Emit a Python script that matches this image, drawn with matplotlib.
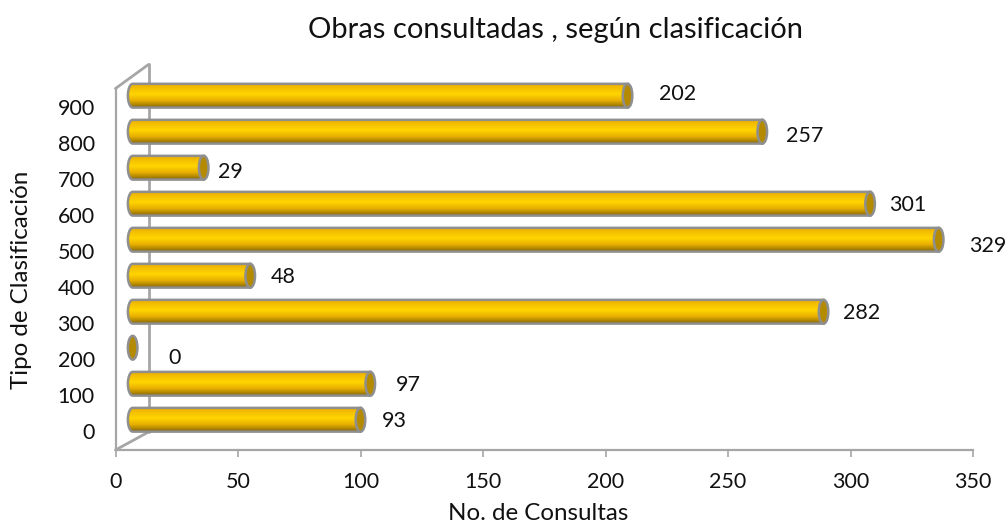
#--- Imports ---
import numpy as np
import matplotlib
matplotlib.use('Agg')
import matplotlib.pyplot as plt
from matplotlib.colors import LinearSegmentedColormap
from matplotlib.patches import Ellipse, PathPatch
from matplotlib.path import Path

plt.rcParams['font.family'] = ['Lato', 'DejaVu Sans']

#--- Data ---
categories = ['0', '100', '200', '300', '400', '500', '600', '700', '800', '900']
consultas = [93, 97, 0, 282, 48, 329, 301, 29, 257, 202]
x_ticks = [0, 50, 100, 150, 200, 250, 300, 350]

title_text = 'Obras consultadas , según clasificación'
x_title = 'No. de Consultas'
y_title = 'Tipo de Clasificación'

#--- Layout (pixels of the 1008x524 picture) ---
W, H = 1008, 524
left, right, top, bottom = 115.5, 973, 88.5, 450
y_min, y_max = -0.54, 9.5
depth_x, depth_y = 33, 24
bar_shift_x, bar_shift_y = 7.0, 0.30
bar_h = 0.66
cap_w = 3.9
# label offsets from the bar end, in x units / category units
label_dx = [14, 15.5, 17, 15.5, 13.5, 20, 15.5, 11, 17.5, 20.5]
label_dy = [-0.03, -0.03, -0.28, -0.03, -0.03, -0.17, -0.03, -0.11, -0.11, 0.05]

grey = '#a6a6a6'
edge = '#8f8f8f'
gold = LinearSegmentedColormap.from_list(
    'gold', [(0, '#e8ac00'), (0.12, '#f2bb00'), (0.42, '#ffd500'),
             (0.68, '#e8b000'), (0.86, '#b08600'), (1, '#7a5f10')])

fig = plt.figure(figsize=(W / 100, H / 100), dpi=100)
ax = fig.add_axes([left / W, 1 - bottom / H, (right - left) / W, (bottom - top) / H])
ax.set_xlim(0, 350)
ax.set_ylim(y_min, y_max)

#--- Walls of the fake 3D box ---
px_x = 350 / (right - left)
px_y = (y_max - y_min) / (bottom - top)
dx, dy = depth_x * px_x, depth_y * px_y
wall = dict(color=grey, lw=2, clip_on=False, zorder=1, solid_capstyle='round')
ax.plot([0, dx], [y_max, y_max + dy], **wall)
ax.plot([dx, dx], [y_max + dy, y_min + dy * 0.75], **wall)
ax.plot([0, dx], [y_min, y_min + dy * 0.75], **wall)

#--- Bars ---
grad = np.linspace(0, 1, 128).reshape(-1, 1)
for i, v in enumerate(consultas):
    x0 = bar_shift_x
    x1 = bar_shift_x + v
    yc = i + bar_shift_y
    y0, y1 = yc - bar_h / 2, yc + bar_h / 2
    r = cap_w / 2
    if v > 0:
        k = 0.55
        verts = [(x0, y0), (x1, y0), (x1, y1), (x0, y1),
                 (x0 - r * k, y1), (x0 - r, yc + bar_h / 2 * k), (x0 - r, yc),
                 (x0 - r, yc - bar_h / 2 * k), (x0 - r * k, y0), (x0, y0)]
        codes = [Path.MOVETO, Path.LINETO, Path.LINETO, Path.LINETO,
                 Path.CURVE4, Path.CURVE4, Path.CURVE4,
                 Path.CURVE4, Path.CURVE4, Path.CURVE4]
        body = PathPatch(Path(verts, codes), fc='none', ec=edge, lw=1.8, zorder=3, clip_on=False)
        ax.add_patch(body)
        im = ax.imshow(grad, extent=[x0 - r, x1, y0, y1], origin='upper',
                       cmap=gold, aspect='auto', zorder=2.5)
        im.set_clip_box(fig.bbox)
        im.set_clip_path(body)
    cap = Ellipse((x1, yc), cap_w, bar_h, fc='#b48a00', ec=edge, lw=1.8, zorder=4, clip_on=False)
    ax.add_patch(cap)
    ax.text(x1 + label_dx[i], yc + label_dy[i], str(v), ha='center', va='center',
            fontsize=15.5, color='#111111', zorder=5)

ax.set_xlim(0, 350)
ax.set_ylim(y_min, y_max)

#--- Axes ---
for s in ['top', 'right']:
    ax.spines[s].set_visible(False)
for s in ['left', 'bottom']:
    ax.spines[s].set_color(grey)
    ax.spines[s].set_linewidth(1.6)
ax.patch.set_alpha(0)
ax.set_xticks(x_ticks)
ax.set_yticks(range(len(categories)))
ax.set_yticklabels(categories)
ax.tick_params(axis='x', length=5, width=1.2, color=grey, labelsize=15.5, pad=11, labelcolor='#111111')
ax.tick_params(axis='y', length=0, labelsize=15.5, pad=15, labelcolor='#111111')

fig.text(556 / W, 1 - 30 / H, title_text, ha='center', va='center', fontsize=21, color='#111111')
fig.text(538 / W, 1 - 513 / H, x_title, ha='center', va='center', fontsize=17.4, color='#111111')
fig.text(22 / W, 1 - 280 / H, y_title, ha='center', va='center', rotation=90, fontsize=17.4, color='#111111')

fig.savefig('out.png', dpi=100)
